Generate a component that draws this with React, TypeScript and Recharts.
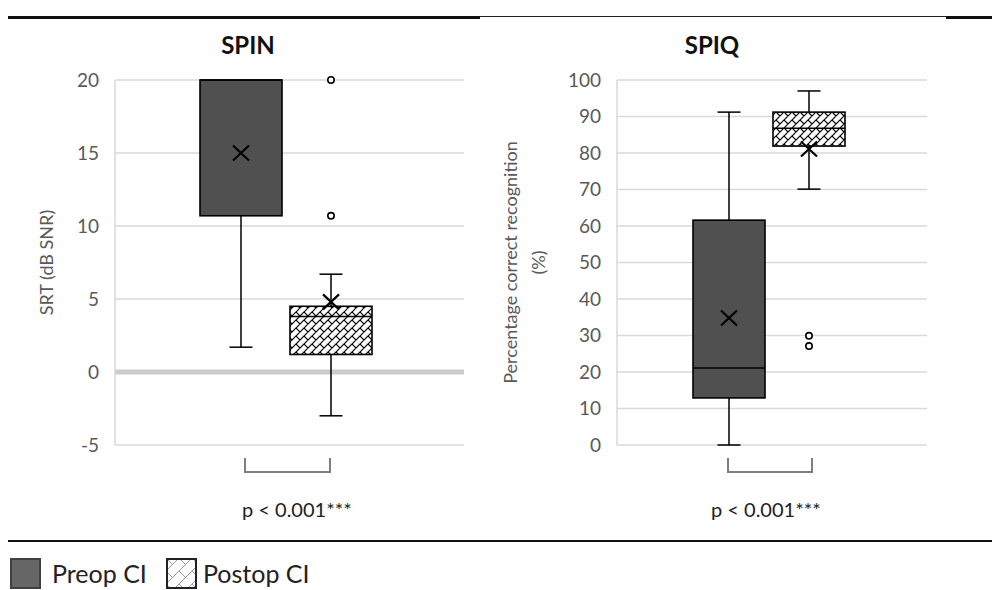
import React from 'react'
import { ComposedChart, Bar, XAxis, YAxis, CartesianGrid, ReferenceLine, Label } from 'recharts'

const groups = ['Preop CI', 'Postop CI']

// SPIN – speech reception threshold (dB SNR)
const spinMin = [1.7, -3.0]
const spinQ1 = [10.7, 1.2]
const spinMedian = [20, 3.8]
const spinQ3 = [20, 4.5]
const spinMax = [20, 6.7]
const spinMean = [15.0, 4.8]
const spinOutliers = [[], [10.7, 20]]
const spinTicks = [-5, 0, 5, 10, 15, 20]

// SPIQ – percentage correct recognition
const spiqMin = [0, 70.1]
const spiqQ1 = [12.9, 81.9]
const spiqMedian = [21.1, 86.8]
const spiqQ3 = [61.6, 91.2]
const spiqMax = [91.2, 97.0]
const spiqMean = [34.8, 81.1]
const spiqOutliers = [[], [29.9, 27.1]]
const spiqTicks = [0, 10, 20, 30, 40, 50, 60, 70, 80, 90, 100]

const FONT = 'Lato, "Open Sans", sans-serif'
const GRID = '#d9d9d9'
const TEXT = '#595959'

type Stats = {
  min: number[]
  q1: number[]
  median: number[]
  q3: number[]
  max: number[]
  mean: number[]
  outliers: number[][]
}

const spinStats: Stats = {
  min: spinMin, q1: spinQ1, median: spinMedian, q3: spinQ3, max: spinMax, mean: spinMean, outliers: spinOutliers,
}
const spiqStats: Stats = {
  min: spiqMin, q1: spiqQ1, median: spiqMedian, q3: spiqQ3, max: spiqMax, mean: spiqMean, outliers: spiqOutliers,
}

// the bar is the whisker range [min, max]; everything else is placed on the same scale
const boxShape = (st: Stats, i: number, fill: string) => (props: any) => {
  const { x, y, width, height } = props
  const lo = st.min[i]
  const hi = st.max[i]
  const py = (v: number) => y + ((hi - v) / (hi - lo)) * height
  const cx = x + width / 2
  const yQ1 = py(st.q1[i])
  const yQ3 = py(st.q3[i])
  const yMed = py(st.median[i])
  const yMean = py(st.mean[i])
  const cap = 11.5
  return (
    <g>
      {hi > st.q3[i] && (
        <>
          <line x1={cx} x2={cx} y1={py(hi)} y2={yQ3} stroke="#000" strokeWidth={1.5} />
          <line x1={cx - cap} x2={cx + cap} y1={py(hi)} y2={py(hi)} stroke="#000" strokeWidth={1.5} />
        </>
      )}
      {lo < st.q1[i] && (
        <>
          <line x1={cx} x2={cx} y1={yQ1} y2={py(lo)} stroke="#000" strokeWidth={1.5} />
          <line x1={cx - cap} x2={cx + cap} y1={py(lo)} y2={py(lo)} stroke="#000" strokeWidth={1.5} />
        </>
      )}
      <rect x={x} y={yQ3} width={width} height={yQ1 - yQ3} fill={fill} stroke="#000" strokeWidth={1.6} />
      <line x1={x} x2={x + width} y1={yMed} y2={yMed} stroke="#000" strokeWidth={1.6} />
      <path
        d={`M${cx - 8},${yMean - 7.5}L${cx + 8},${yMean + 7.5}M${cx + 8},${yMean - 7.5}L${cx - 8},${yMean + 7.5}`}
        stroke="#000"
        strokeWidth={2.2}
        fill="none"
      />
      {st.outliers[i].map((o, k) => (
        <circle key={k} cx={cx} cy={py(o)} r={3.2} fill="#fff" stroke="#000" strokeWidth={1.6} />
      ))}
    </g>
  )
}

const axisTitle = (lines: string[], cx: number) => (props: any) => {
  const vb = props.viewBox
  const cy = vb.y + vb.height / 2
  return (
    <text
      transform={`rotate(-90, ${cx}, ${cy})`}
      x={cx}
      y={cy}
      textAnchor="middle"
      dominantBaseline="central"
      fill={TEXT}
      fontSize={18}
      fontFamily={FONT}
    >
      {lines.map((l, k) => (
        <tspan key={k} x={cx} dy={k === 0 ? 0 : 28}>
          {l}
        </tspan>
      ))}
    </text>
  )
}

function HatchDefs({ id, size, color, sw }: { id: string; size: number; color: string; sw: number }) {
  const s = size
  return (
    <defs>
      <pattern id={id} width={s} height={s} patternUnits="userSpaceOnUse">
        <rect width={s} height={s} fill="#fff" />
        <path
          d={`M0,${s}L${s},0M${-s / 2},${s / 2}L${s / 2},${-s / 2}M${s / 2},${s * 1.5}L${s * 1.5},${s / 2}M0,0L${s / 2},${s / 2}`}
          stroke={color}
          strokeWidth={sw}
        />
      </pattern>
    </defs>
  )
}

type PanelProps = {
  title: string
  stats: Stats
  ticks: number[]
  domain: [number, number]
  left: number
  width: number
  axisWidth: number
  rightMargin: number
  barSize: number
  padRight: number
  axisLines: string[]
  axisX: number
  zeroLine?: boolean
  hatchId: string
}

function BoxPanel(p: PanelProps) {
  const row = {
    name: p.title,
    preop: [p.stats.min[0], p.stats.max[0]],
    postop: [p.stats.min[1], p.stats.max[1]],
  }
  return (
    <div style={{ position: 'absolute', left: p.left, top: 0 }}>
      <ComposedChart
        width={p.width}
        height={590}
        data={[row]}
        margin={{ top: 80, right: p.rightMargin, bottom: 145, left: 0 }}
        barGap={8}
      >
        <HatchDefs id={p.hatchId} size={8} color="#000" sw={1.2} />
        <CartesianGrid vertical={false} stroke={GRID} strokeWidth={1.5} />
        <XAxis dataKey="name" type="category" hide padding={{ left: 0, right: p.padRight }} />
        <YAxis
          type="number"
          domain={p.domain}
          ticks={p.ticks}
          interval={0}
          width={p.axisWidth}
          axisLine={{ stroke: GRID, strokeWidth: 1.5 }}
          tickLine={false}
          tickSize={0}
          tickMargin={16}
          tick={{ fill: TEXT, fontSize: 19, fontFamily: FONT }}
        >
          <Label content={axisTitle(p.axisLines, p.axisX)} />
        </YAxis>
        {p.zeroLine && <ReferenceLine y={0} stroke="#cccccc" strokeWidth={5} zIndex={-50} />}
        <Bar
          dataKey="preop"
          name={groups[0]}
          barSize={p.barSize}
          isAnimationActive={false}
          shape={boxShape(p.stats, 0, '#505050')}
        />
        <Bar
          dataKey="postop"
          name={groups[1]}
          barSize={p.barSize}
          isAnimationActive={false}
          shape={boxShape(p.stats, 1, `url(#${p.hatchId})`)}
        />
      </ComposedChart>
    </div>
  )
}

const abs = (s: React.CSSProperties): React.CSSProperties => ({ position: 'absolute', ...s })

function Bracket({ left, right }: { left: number; right: number }) {
  return (
    <div
      style={abs({
        left,
        top: 458,
        width: right - left,
        height: 15,
        borderLeft: '2px solid #7f7f7f',
        borderRight: '2px solid #7f7f7f',
        borderBottom: '2px solid #7f7f7f',
        boxSizing: 'border-box',
      })}
    />
  )
}

export default function App() {
  return (
    <div style={abs({ left: 0, top: 0, width: 992, height: 590, background: '#fff', fontFamily: FONT, overflow: 'hidden' })}>
      {/* top rules */}
      <div style={abs({ left: 8, top: 16, width: 472, height: 2.5, background: '#111' })} />
      <div style={abs({ left: 480, top: 16, width: 466, height: 1.2, background: '#222' })} />
      <div style={abs({ left: 946, top: 16, width: 46, height: 2.5, background: '#111' })} />

      <div style={abs({ left: 148, top: 30, width: 200, textAlign: 'center', fontWeight: 700, fontSize: 24, lineHeight: '30px', color: '#111' })}>
        SPIN
      </div>
      <div style={abs({ left: 612, top: 30, width: 200, textAlign: 'center', fontWeight: 700, fontSize: 24, lineHeight: '30px', color: '#111' })}>
        SPIQ
      </div>

      <BoxPanel
        title="SPIN"
        stats={spinStats}
        ticks={spinTicks}
        domain={[-5, 20]}
        left={0}
        width={480}
        axisWidth={115}
        rightMargin={16}
        barSize={82}
        padRight={7}
        axisLines={['SRT (dB SNR)']}
        axisX={46}
        zeroLine
        hatchId="hatchSpin"
      />
      <BoxPanel
        title="SPIQ"
        stats={spiqStats}
        ticks={spiqTicks}
        domain={[0, 100]}
        left={480}
        width={512}
        axisWidth={137}
        rightMargin={65}
        barSize={72}
        padRight={6}
        axisLines={['Percentage correct recognition', '(%)']}
        axisX={30}
        hatchId="hatchSpiq"
      />

      <Bracket left={244} right={331} />
      <Bracket left={727} right={813} />
      <div style={abs({ left: 242, top: 496, fontSize: 20, lineHeight: '26px', color: '#222', whiteSpace: 'nowrap' })}>
        p &lt; 0.001***
      </div>
      <div style={abs({ left: 711, top: 496, fontSize: 20, lineHeight: '26px', color: '#222', whiteSpace: 'nowrap' })}>
        p &lt; 0.001***
      </div>

      {/* bottom rule and legend */}
      <div style={abs({ left: 8, top: 540, width: 984, height: 2, background: '#111' })} />
      <div style={abs({ left: 10, top: 558, width: 31, height: 31, background: '#666', border: '2px solid #404040', boxSizing: 'border-box' })} />
      <div style={abs({ left: 52, top: 556, fontSize: 25, lineHeight: '34px', color: '#222' })}>{groups[0]}</div>
      <svg style={abs({ left: 166, top: 558 })} width={31} height={31}>
        <HatchDefs id="hatchLegend" size={13} color="#999" sw={1} />
        <rect x={1} y={1} width={29} height={29} fill="url(#hatchLegend)" stroke="#222" strokeWidth={2} />
      </svg>
      <div style={abs({ left: 203, top: 556, fontSize: 25, lineHeight: '34px', color: '#222' })}>{groups[1]}</div>
    </div>
  )
}
